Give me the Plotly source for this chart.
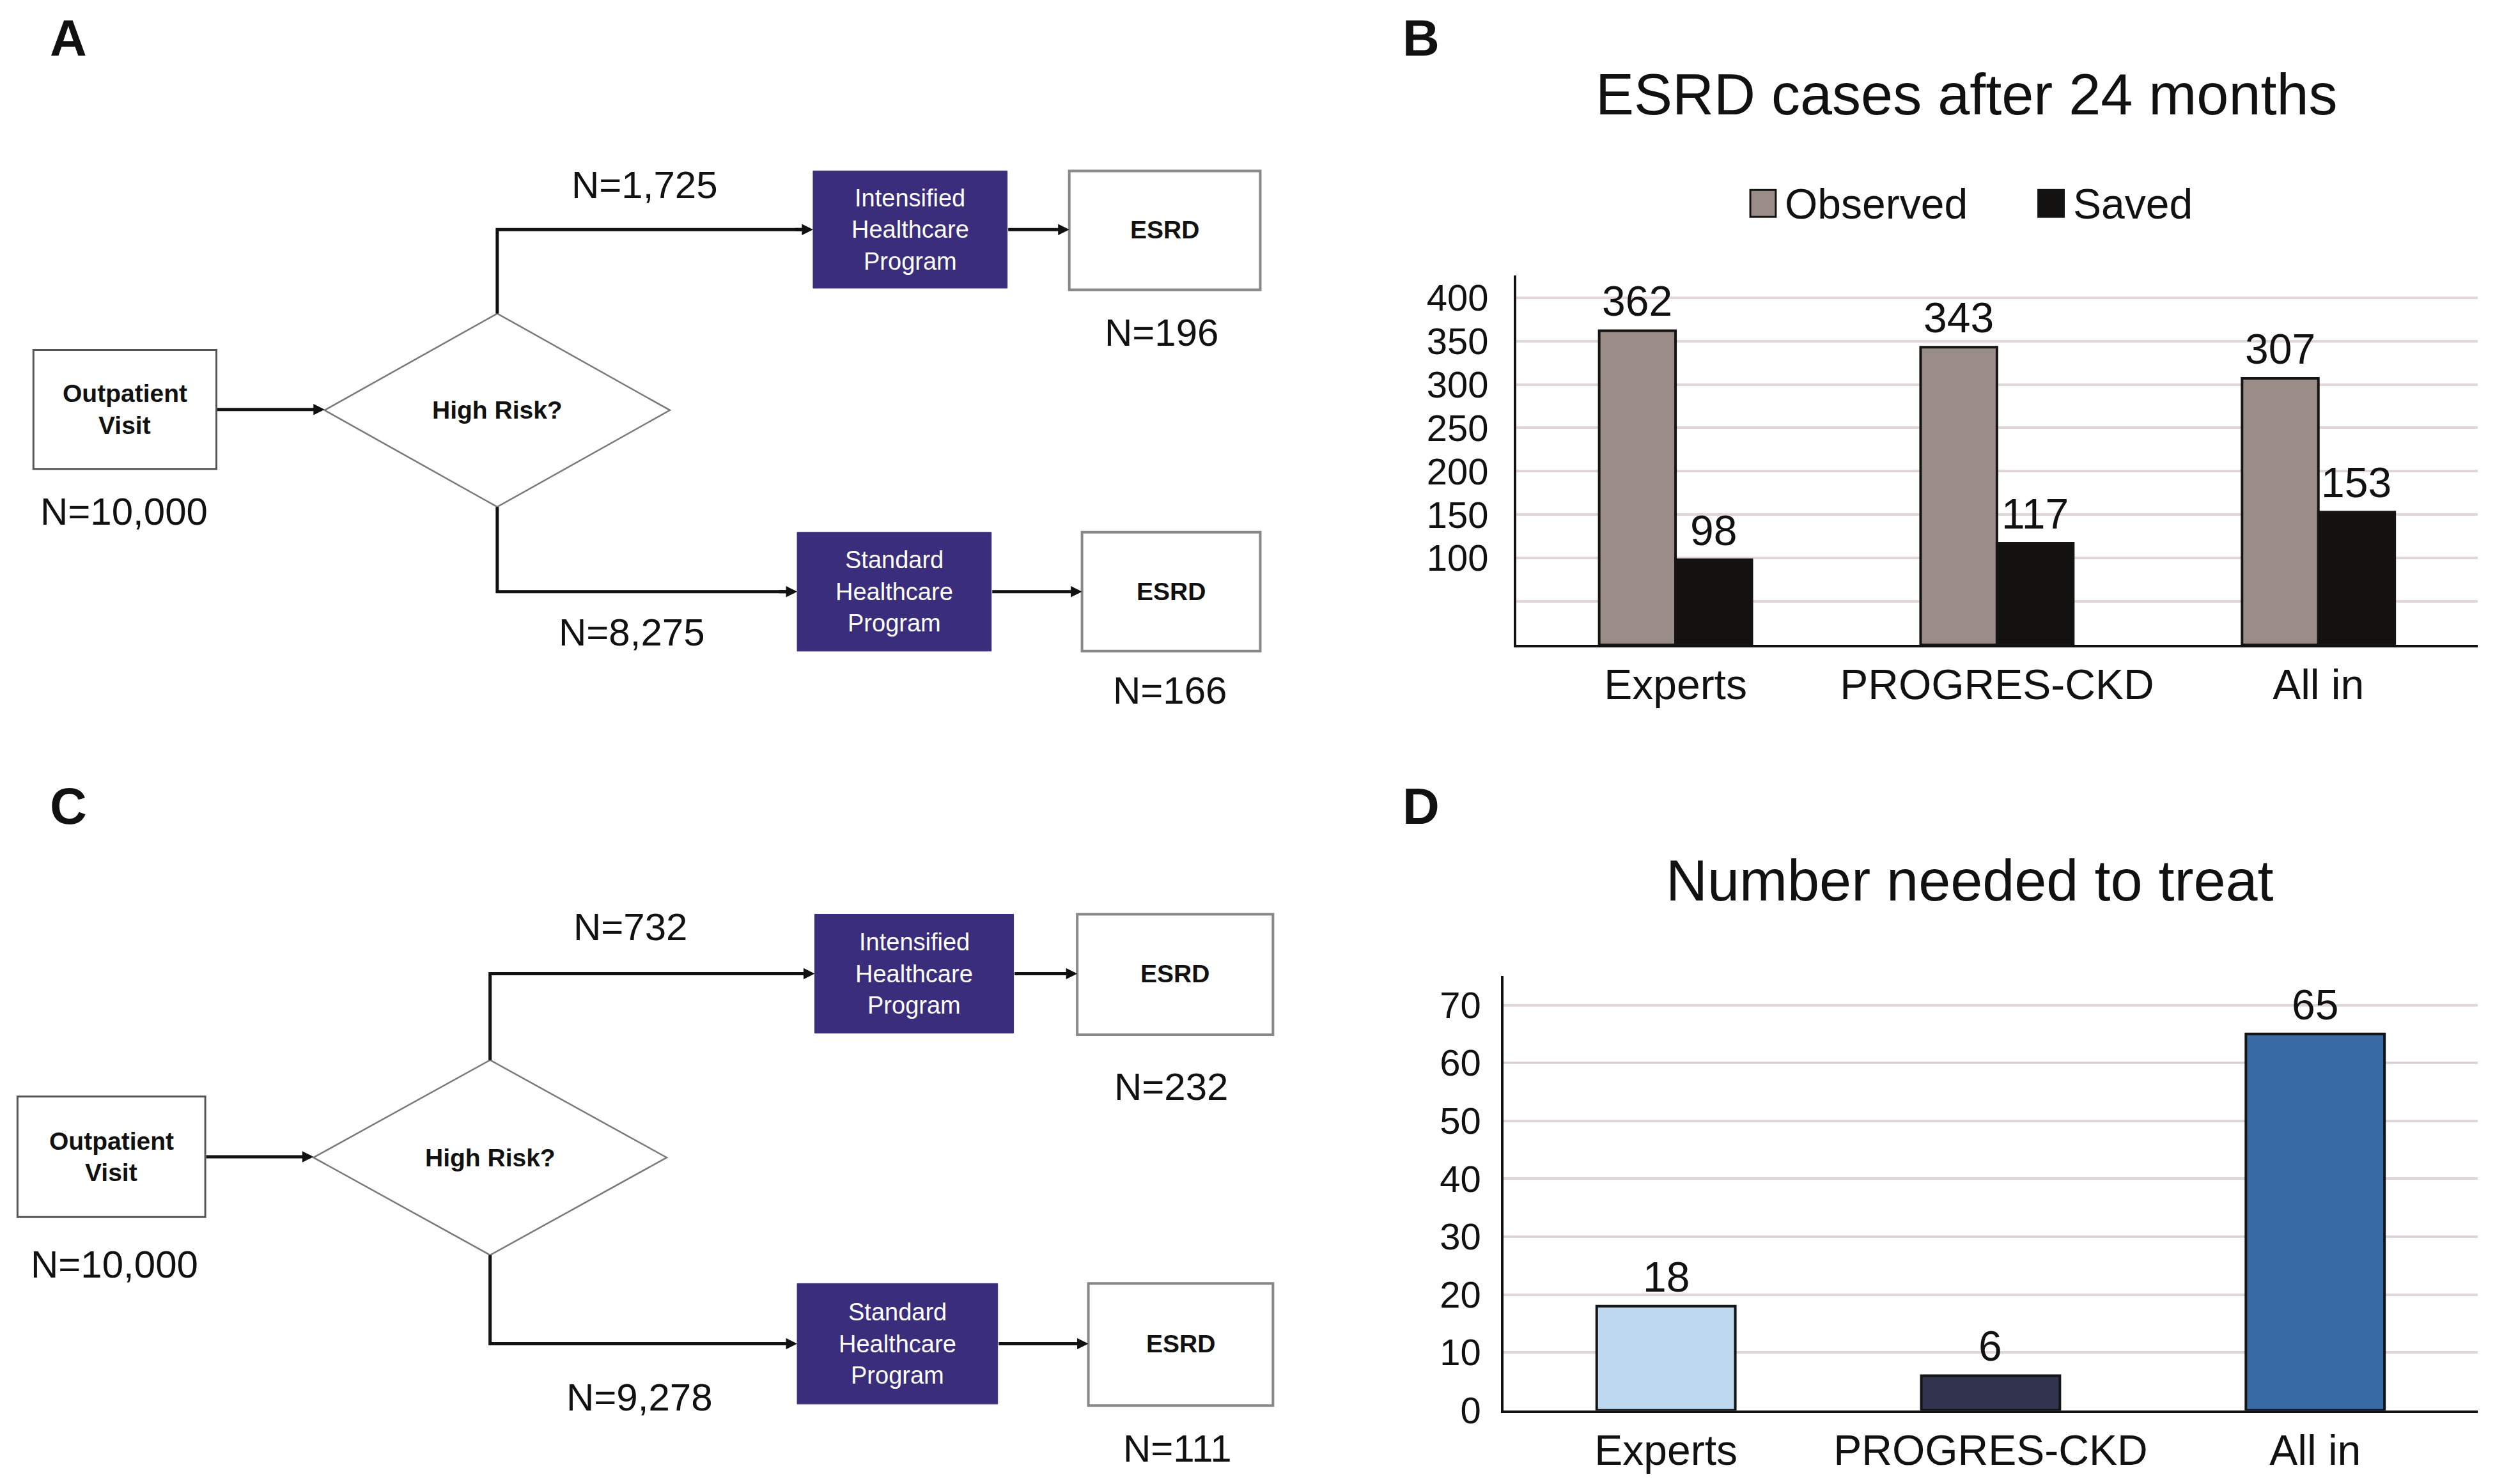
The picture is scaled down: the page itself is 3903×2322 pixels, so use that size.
import plotly.graph_objects as go

W, H = 3903, 2322          # browser window
OFF = 8                    # default body margin of the page
FW, FH = W - 24, H - 24    # figure size so the page never scrolls
DW, DH = 1568.0, 933.0     # reference measurement grid
S = W / DW                 # real px per reference unit
KY, CY = 0.9897, -4.4      # measured vertical mapping of the captured page

# ---------------- data ----------------
categories = ["Experts", "PROGRES-CKD", "All in"]
observed_cases = [362, 343, 307]
saved_cases = [98, 117, 153]
nnt_values = [18, 6, 65]
nnt_colors = ["#bdd7ee", "#31334f", "#386aa3"]
esrd_tickvals = [50, 100, 150, 200, 250, 300, 350, 400]
esrd_ticktext = ["", "100", "150", "200", "250", "300", "350", "400"]
nnt_tickvals = [0, 10, 20, 30, 40, 50, 60, 70]
nnt_ticktext = ["0", "10", "20", "30", "40", "50", "60", "70"]

# flowchart counts: total, high-risk, standard, ESRD high, ESRD standard
flow_a_counts = [10000, 1725, 8275, 196, 166]
flow_c_counts = [10000, 732, 9278, 232, 111]
high_box_lines = ["Intensified", "Healthcare", "Program"]
std_box_lines = ["Standard", "Healthcare", "Program"]
series_names = ["Observed", "Saved"]
series_colors = ["#9a8c86", "#131210"]

SANS = "Liberation Sans, Arial, Helvetica, sans-serif"
INK = "#111111"
PURPLE = "#3a2e7c"


def X(x):
    return (x * S - OFF) / FW


def Y(y):
    return 1 - ((y * S - CY) / KY - OFF) / FH


shapes = []
annotations = []


def rect(x0, y0, x1, y1, fill, line_color, lw):
    shapes.append(dict(type="rect", xref="paper", yref="paper",
                       x0=X(x0), x1=X(x1), y0=Y(y1), y1=Y(y0),
                       fillcolor=fill, line=dict(color=line_color, width=lw)))


def text(x, y, s, size, color=INK, family=SANS, bold=False, xanchor="center"):
    annotations.append(dict(xref="paper", yref="paper", x=X(x), y=Y(y),
                            text=f"<b>{s}</b>" if bold else s, showarrow=False,
                            font=dict(size=size, color=color, family=family),
                            xanchor=xanchor, yanchor="middle"))


def arrow(x0, x1, y):
    annotations.append(dict(xref="paper", yref="paper", x=X(x1), y=Y(y),
                            ax=-(x1 - x0) * S, ay=0, text="", showarrow=True,
                            arrowhead=2, arrowsize=0.7, arrowwidth=5,
                            arrowcolor=INK, standoff=0))


def elbow(x, y0, y1, x1):
    path = f"M {X(x)},{Y(y0)} L {X(x)},{Y(y1)} L {X(x1 - 6)},{Y(y1)}"
    shapes.append(dict(type="path", xref="paper", yref="paper", path=path,
                       line=dict(color=INK, width=5)))
    arrow(x1 - 12, x1, y1)


def diamond(l, r, t, b):
    cx, cy = (l + r) / 2, (t + b) / 2
    path = (f"M {X(l)},{Y(cy)} L {X(cx)},{Y(t)} L {X(r)},{Y(cy)} "
            f"L {X(cx)},{Y(b)} Z")
    shapes.append(dict(type="path", xref="paper", yref="paper", path=path,
                       fillcolor="white", line=dict(color="#7a7a7a", width=2.5)))


BOX_FS = 39


def flowchart(g, counts, letter):
    fmt = lambda v: f"N={v:,}"
    text(g["letter"][0], g["letter"][1], letter, 80, bold=True)
    # outpatient box
    ox0, oy0, ox1, oy1 = g["out"]
    rect(ox0, oy0, ox1, oy1, "white", "#555555", 3)
    ocx, ocy = (ox0 + ox1) / 2, (oy0 + oy1) / 2
    text(ocx, ocy - 10, "Outpatient", BOX_FS, bold=True)
    text(ocx, ocy + 10, "Visit", BOX_FS, bold=True)
    text(g["n_total"][0], g["n_total"][1], fmt(counts[0]), 60)
    # diamond
    l, r, t, b = g["dia"]
    arrow(ox1, l, ocy)
    diamond(l, r, t, b)
    cx, cy = (l + r) / 2, (t + b) / 2
    text(cx, cy, "High Risk?", BOX_FS, bold=True)
    # high branch
    hx0, hy0, hx1, hy1 = g["high"]
    hcy = (hy0 + hy1) / 2
    elbow(cx, t, hcy, hx0)
    rect(hx0, hy0, hx1, hy1, PURPLE, PURPLE, 1)
    hcx = (hx0 + hx1) / 2
    for k, s in enumerate(high_box_lines):
        text(hcx, hcy + (k - 1) * 20, s, 38, color="white")
    ex0, ey0, ex1, ey1 = g["esrd_high"]
    arrow(hx1, ex0, hcy)
    rect(ex0, ey0, ex1, ey1, "white", "#888888", 4)
    text((ex0 + ex1) / 2, hcy, "ESRD", BOX_FS, bold=True)
    text(g["n_high"][0], g["n_high"][1], fmt(counts[1]), 60)
    text(g["n_esrd_high"][0], g["n_esrd_high"][1], fmt(counts[3]), 60)
    # standard branch
    sx0, sy0, sx1, sy1 = g["std"]
    scy = (sy0 + sy1) / 2
    elbow(cx, b, scy, sx0)
    rect(sx0, sy0, sx1, sy1, PURPLE, PURPLE, 1)
    scx = (sx0 + sx1) / 2
    for k, s in enumerate(std_box_lines):
        text(scx, scy + (k - 1) * 20, s, 38, color="white")
    fx0, fy0, fx1, fy1 = g["esrd_std"]
    arrow(sx1, fx0, scy)
    rect(fx0, fy0, fx1, fy1, "white", "#888888", 4)
    text((fx0 + fx1) / 2, scy, "ESRD", BOX_FS, bold=True)
    text(g["n_std"][0], g["n_std"][1], fmt(counts[2]), 60)
    text(g["n_esrd_std"][0], g["n_esrd_std"][1], fmt(counts[4]), 60)


geom_a = dict(letter=(43, 22), out=(21, 219, 136, 294), n_total=(78, 321),
              dia=(204, 421, 196, 318), high=(511, 106, 633, 180),
              esrd_high=(672, 106, 792, 181), n_high=(405, 115), n_esrd_high=(730, 208),
              std=(501, 334, 623, 409), esrd_std=(680, 334, 792, 409),
              n_std=(397, 397), n_esrd_std=(735, 434))
geom_c = dict(letter=(43, 507), out=(11, 690, 129, 766), n_total=(72, 796),
              dia=(197, 419, 667, 790), high=(512, 575, 637, 650),
              esrd_high=(677, 575, 800, 651), n_high=(396, 583), n_esrd_high=(736, 684),
              std=(501, 808, 627, 884), esrd_std=(684, 808, 800, 885),
              n_std=(402, 880), n_esrd_std=(740, 912))

flowchart(geom_a, flow_a_counts, "A")
flowchart(geom_c, flow_c_counts, "C")

# ---------------- bar charts ----------------
BAR_LINE = dict(color="#141414", width=4)
bargap_b = 0.525
bw_b = (1 - bargap_b) / 2
width_d = 0.427

fig = go.Figure()
for name, vals, col in zip(series_names, [observed_cases, saved_cases], series_colors):
    fig.add_trace(go.Bar(x=categories, y=vals, name=name, xaxis="x", yaxis="y",
                         marker=dict(color=col, line=BAR_LINE), showlegend=False))
fig.add_trace(go.Bar(x=categories, y=nnt_values, xaxis="x2", yaxis="y2", width=width_d,
                     marker=dict(color=nnt_colors, line=BAR_LINE), showlegend=False))

VAL_FONT = dict(size=66, color=INK, family=SANS)
for j, vals in enumerate([observed_cases, saved_cases]):
    off = (j - 0.5) * bw_b
    for i, v in enumerate(vals):
        annotations.append(dict(xref="x", yref="y", x=i + off, y=v, text=str(v),
                                showarrow=False, yanchor="middle", yshift=46, font=VAL_FONT))
for i, v in enumerate(nnt_values):
    annotations.append(dict(xref="x2", yref="y2", x=i, y=v, text=str(v),
                            showarrow=False, yanchor="middle", yshift=46, font=VAL_FONT))

# titles and letters
text(1236, 58, "ESRD cases after 24 months", 90)
text(1238, 554, "Number needed to treat", 90)
text(893, 22, "B", 80, bold=True)
text(893, 507, "D", 80, bold=True)

# manual legend
for (x0, name, col) in [(1100, series_names[0], series_colors[0]), (1281, series_names[1], series_colors[1])]:
    rect(x0, 118, x0 + 16, 135, col, "#141414", 3)
    text(x0 + 21, 127, name, 66, xanchor="left")

axis_common = dict(showline=True, linecolor=INK, linewidth=4, zeroline=False, ticks="",
                   fixedrange=True)

fig.update_layout(
    width=FW, height=FH, margin=dict(l=0, r=0, t=0, b=0),
    paper_bgcolor="white", plot_bgcolor="white",
    barmode="group", bargap=bargap_b, bargroupgap=0,
    xaxis=dict(domain=[X(953), X(1557)], anchor="y", range=[-0.495, 2.495],
               showgrid=False, tickfont=dict(size=66, color=INK, family=SANS),
               ticklabelstandoff=2, **axis_common),
    yaxis=dict(domain=[Y(405), Y(172)], anchor="x", range=[0, 425.6],
               tickvals=esrd_tickvals, ticktext=esrd_ticktext, showgrid=True,
               gridcolor="#e0d6d6", gridwidth=4,
               tickfont=dict(size=58, color=INK, family=SANS), ticklabelstandoff=28,
               **axis_common),
    xaxis2=dict(domain=[X(945), X(1557)], anchor="y2", range=[-0.5, 2.5],
                showgrid=False, tickfont=dict(size=66, color=INK, family=SANS),
                ticklabelstandoff=2, **axis_common),
    yaxis2=dict(domain=[Y(888), Y(614)], anchor="x2", range=[0, 75],
                tickvals=nnt_tickvals, ticktext=nnt_ticktext, showgrid=True,
                gridcolor="#e0d6d6", gridwidth=4,
                tickfont=dict(size=58, color=INK, family=SANS), ticklabelstandoff=20,
                **axis_common),
    shapes=shapes, annotations=annotations,
)

fig.write_html("out.html")
